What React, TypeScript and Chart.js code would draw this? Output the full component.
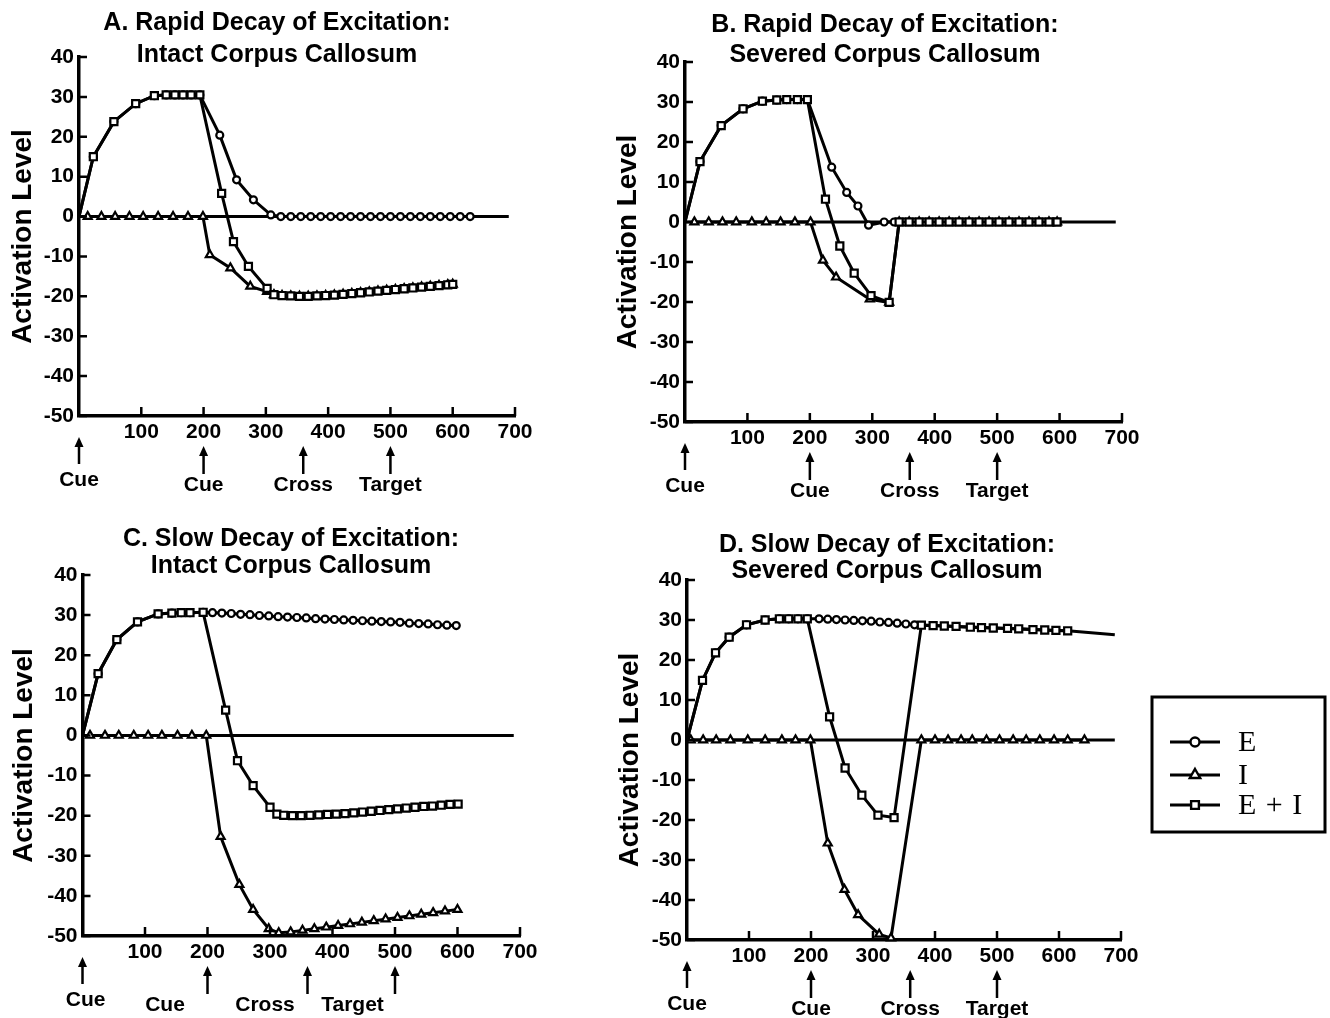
import React, { useEffect, useRef } from 'react';
import { Chart, registerables } from 'chart.js';

Chart.register(...registerables);

const FONT = "'Liberation Sans', Arial, Helvetica, sans-serif";
const SERIF = "'Liberation Serif', 'Times New Roman', serif";
Chart.defaults.font.family = FONT;
Chart.defaults.color = '#000';

// ---------- axes / labels ----------
const X_MIN = 0;
const X_MAX = 700;
const X_STEP = 100;
const Y_MIN = -50;
const Y_MAX = 40;
const Y_STEP = 10;
const Y_AXIS_TITLE = 'Activation Level';
const SERIES_LABELS = ['E', 'I', 'E + I'];
const EVENT_LABELS = ['Cue', 'Cue', 'Cross', 'Target'];
const EVENT_ARROWS_AT = [0, 200, 360, 500];
const EVENT_LABELS_AT = [0, 200, 360, 500];
const C_EVENT_LABELS_AT = [5, 132, 292, 432];
const ZERO_LINE_X = [0, 690];
const ZERO_LINE_Y = [0, 0];

// ---------- Panel A: rapid decay, intact ----------
const A_E_X = [0, 23, 56, 91, 121, 140, 154, 167, 180, 194, 226, 253, 280, 308, 324, 340, 356, 372, 388, 404, 420, 436, 452, 468, 484, 500, 516, 532, 548, 564, 580, 596, 612, 628];
const A_E_Y = [0, 15, 23.8, 28.3, 30.3, 30.5, 30.5, 30.5, 30.5, 30.5, 20.4, 9.2, 4.2, 0.4, 0, 0, 0, 0, 0, 0, 0, 0, 0, 0, 0, 0, 0, 0, 0, 0, 0, 0, 0, 0];
const A_I_X = [14, 36, 58, 81, 103, 127, 151, 175, 199, 210, 243, 275, 302, 313, 326, 340, 354, 368, 382, 396, 410, 424, 438, 452, 466, 480, 494, 508, 522, 536, 550, 564, 578, 592, 600];
const A_I_Y = [0, 0, 0, 0, 0, 0, 0, 0, 0, -9.6, -12.9, -17.5, -18.8, -19.6, -19.8, -19.9, -20, -20, -19.9, -19.8, -19.7, -19.5, -19.3, -19.1, -18.9, -18.7, -18.5, -18.3, -18.1, -17.9, -17.7, -17.5, -17.3, -17.1, -17];
const A_EI_X = [0, 23, 56, 91, 121, 140, 154, 167, 180, 194, 229, 248, 272, 302, 313, 326, 340, 354, 368, 382, 396, 410, 424, 438, 452, 466, 480, 494, 508, 522, 536, 550, 564, 578, 592, 600];
const A_EI_Y = [0, 15, 23.8, 28.3, 30.3, 30.5, 30.5, 30.5, 30.5, 30.5, 5.8, -6.3, -12.5, -18, -19.6, -19.8, -19.9, -20, -20, -19.9, -19.8, -19.7, -19.5, -19.3, -19.1, -18.9, -18.7, -18.5, -18.3, -18.1, -17.9, -17.7, -17.5, -17.3, -17.1, -17];

// ---------- Panel B: rapid decay, severed ----------
const B_E_X = [0, 24, 58, 93, 124, 147, 163, 180, 196, 235, 259, 277, 294, 319, 335, 351, 367, 383, 399, 415, 431, 447, 463, 479, 495, 511, 527, 543, 559, 575, 591];
const B_E_Y = [0, 15.1, 24.1, 28.3, 30.2, 30.5, 30.6, 30.6, 30.6, 13.7, 7.4, 4, -0.8, 0, 0, 0, 0, 0, 0, 0, 0, 0, 0, 0, 0, 0, 0, 0, 0, 0, 0];
const B_I_X = [15, 38, 60, 82, 107, 130, 153, 176, 201, 221, 242, 296, 327, 343, 359, 375, 391, 407, 423, 439, 455, 471, 487, 503, 519, 535, 551, 567, 583, 596];
const B_I_Y = [0, 0, 0, 0, 0, 0, 0, 0, 0, -9.6, -13.8, -19.3, -20.1, 0, 0, 0, 0, 0, 0, 0, 0, 0, 0, 0, 0, 0, 0, 0, 0, 0];
const B_EI_X = [0, 24, 58, 93, 124, 147, 163, 180, 196, 225, 248, 271, 298, 327, 343, 359, 375, 391, 407, 423, 439, 455, 471, 487, 503, 519, 535, 551, 567, 583, 596];
const B_EI_Y = [0, 15.1, 24.1, 28.3, 30.2, 30.5, 30.6, 30.6, 30.6, 5.7, -6, -12.8, -18.4, -20.1, 0, 0, 0, 0, 0, 0, 0, 0, 0, 0, 0, 0, 0, 0, 0, 0, 0];

// ---------- Panel C: slow decay, intact ----------
const C_E_X = [0, 25, 55, 88, 121, 143, 158, 172, 193, 208, 223, 238, 253, 268, 283, 298, 313, 328, 343, 358, 373, 388, 403, 418, 433, 448, 463, 478, 493, 508, 523, 538, 553, 568, 583, 598];
const C_E_Y = [0, 15.4, 23.9, 28.3, 30.3, 30.5, 30.6, 30.6, 30.7, 30.6, 30.5, 30.4, 30.2, 30.1, 29.9, 29.8, 29.6, 29.5, 29.4, 29.3, 29.1, 29.0, 28.9, 28.8, 28.7, 28.6, 28.5, 28.4, 28.3, 28.2, 28.0, 27.9, 27.8, 27.6, 27.5, 27.4];
const C_I_X = [12, 36, 58, 82, 105, 127, 152, 175, 198, 221, 251, 273, 298, 314, 333, 352, 371, 390, 409, 428, 447, 466, 485, 504, 523, 542, 561, 580, 600];
const C_I_Y = [0, 0, 0, 0, 0, 0, 0, 0, 0, -25.2, -37.2, -43.4, -48.2, -49.2, -49.0, -48.6, -48.2, -47.8, -47.4, -47.0, -46.6, -46.2, -45.8, -45.4, -45.0, -44.6, -44.2, -43.8, -43.4];
const C_EI_X = [0, 25, 55, 88, 121, 143, 158, 172, 193, 229, 248, 273, 300, 311, 322, 336, 350, 364, 378, 392, 406, 420, 434, 448, 462, 476, 490, 504, 518, 532, 546, 560, 574, 588, 601];
const C_EI_Y = [0, 15.4, 23.9, 28.3, 30.3, 30.5, 30.6, 30.6, 30.7, 6.3, -6.3, -12.5, -17.9, -19.6, -19.9, -20, -20, -19.9, -19.8, -19.7, -19.6, -19.5, -19.3, -19.1, -18.9, -18.7, -18.5, -18.3, -18.1, -17.9, -17.7, -17.6, -17.4, -17.2, -17.1];

// ---------- Panel D: slow decay, severed ----------
const D_E_X = [0, 25, 46, 68, 96, 126, 149, 164, 179, 194, 213, 227, 241, 255, 269, 283, 297, 311, 325, 339, 353, 367, 397, 434, 475, 517, 558, 595, 614, 690];
const D_E_Y = [0, 14.9, 21.8, 25.7, 28.8, 30, 30.3, 30.3, 30.3, 30.3, 30.3, 30.2, 30.1, 30.0, 29.9, 29.8, 29.7, 29.5, 29.4, 29.2, 29.0, 28.8, 28.6, 28.4, 28.1, 27.9, 27.6, 27.4, 27.3, 26.3];
const D_I_X = [6, 26, 47, 70, 98, 126, 153, 175, 199, 227, 254, 276, 310, 329, 378, 400, 421, 442, 460, 483, 504, 526, 547, 569, 592, 614, 641];
const D_I_Y = [0, 0, 0, 0, 0, 0, 0, 0, 0, -25.8, -37.4, -43.7, -48.6, -49.5, 0, 0, 0, 0, 0, 0, 0, 0, 0, 0, 0, 0, 0];
const D_EI_X = [0, 25, 46, 68, 96, 126, 149, 164, 179, 194, 230, 255, 282, 308, 334, 378, 397, 415, 434, 457, 475, 494, 517, 535, 558, 577, 595, 614];
const D_EI_Y = [0, 14.9, 21.8, 25.7, 28.8, 30, 30.3, 30.3, 30.3, 30.3, 5.8, -7, -13.8, -18.8, -19.4, 28.7, 28.6, 28.5, 28.4, 28.2, 28.1, 28.0, 27.9, 27.8, 27.6, 27.5, 27.4, 27.3];

type XY = [number[], number[]];
type PanelSpec = {
  key: string;
  left: number; top: number; width: number; height: number;
  pad: { l: number; r: number; t: number; b: number };
  yw: number;
  title: [string, string];
  titleX: number;
  titleBase: [number, number];
  E: XY; I: XY; EI: XY;
  eMarkerUntil: number;
  labelsAt: number[];
  legend?: { x: number; y: number; w: number; h: number };
};

const PANELS: PanelSpec[] = [
  {
    key: 'A', left: 0, top: 0, width: 600, height: 509,
    pad: { l: 6.2, r: 85, t: 57, b: 63 }, yw: 72.8,
    title: ['A. Rapid Decay of Excitation:', 'Intact Corpus Callosum'], titleX: 277, titleBase: [30, 62],
    E: [A_E_X, A_E_Y], I: [A_I_X, A_I_Y], EI: [A_EI_X, A_EI_Y], eMarkerUntil: 640,
    labelsAt: EVENT_LABELS_AT,
  },
  {
    key: 'B', left: 600, top: 0, width: 730, height: 509,
    pad: { l: 11.2, r: 208, t: 62, b: 57 }, yw: 73.8,
    title: ['B. Rapid Decay of Excitation:', 'Severed Corpus Callosum'], titleX: 285, titleBase: [32, 62],
    E: [B_E_X, B_E_Y], I: [B_I_X, B_I_Y], EI: [B_EI_X, B_EI_Y], eMarkerUntil: 600,
    labelsAt: EVENT_LABELS_AT,
  },
  {
    key: 'C', left: 0, top: 509, width: 600, height: 509,
    pad: { l: 7.2, r: 80, t: 66, b: 52 }, yw: 75.3,
    title: ['C. Slow Decay of Excitation:', 'Intact Corpus Callosum'], titleX: 291, titleBase: [37, 64],
    E: [C_E_X, C_E_Y], I: [C_I_X, C_I_Y], EI: [C_EI_X, C_EI_Y], eMarkerUntil: 610,
    labelsAt: C_EVENT_LABELS_AT,
  },
  {
    key: 'D', left: 600, top: 509, width: 730, height: 509,
    pad: { l: 13.2, r: 209, t: 71, b: 48 }, yw: 73.8,
    title: ['D. Slow Decay of Excitation:', 'Severed Corpus Callosum'], titleX: 287, titleBase: [43, 69],
    E: [D_E_X, D_E_Y], I: [D_I_X, D_I_Y], EI: [D_EI_X, D_EI_Y], eMarkerUntil: 370,
    labelsAt: EVENT_LABELS_AT,
    legend: { x: 552, y: 188, w: 173, h: 135 },
  },
];

const MARKERS = [
  { style: 'circle', r: 3.5 },
  { style: 'triangle', r: 4.6 },
  { style: 'rect', r: 5 },
];

function drawMarker(ctx: CanvasRenderingContext2D, style: string, x: number, y: number, r: number) {
  ctx.beginPath();
  if (style === 'circle') {
    ctx.arc(x, y, r, 0, Math.PI * 2);
  } else if (style === 'triangle') {
    let a = 0;
    ctx.moveTo(x + Math.sin(a) * r, y - Math.cos(a) * r);
    a += (2 * Math.PI) / 3;
    ctx.lineTo(x + Math.sin(a) * r, y - Math.cos(a) * r);
    a += (2 * Math.PI) / 3;
    ctx.lineTo(x + Math.sin(a) * r, y - Math.cos(a) * r);
    ctx.closePath();
  } else {
    const s = Math.SQRT1_2 * r;
    ctx.rect(x - s, y - s, 2 * s, 2 * s);
  }
  ctx.fillStyle = '#fff';
  ctx.fill();
  ctx.stroke();
}

function makeDecor(p: PanelSpec) {
  return {
    id: 'decor' + p.key,
    afterDraw(chart: any) {
      const { ctx, chartArea: ca, scales } = chart;
      const xs = scales.x;
      const ys = scales.y;
      ctx.save();
      ctx.strokeStyle = '#000';
      ctx.fillStyle = '#000';
      ctx.lineWidth = 2.5;
      // inward tick marks
      ctx.beginPath();
      ys.ticks.forEach((t: any) => {
        const py = ys.getPixelForValue(t.value);
        ctx.moveTo(ca.left, py);
        ctx.lineTo(ca.left + 8, py);
      });
      xs.ticks.forEach((t: any) => {
        if (t.value === X_MIN) return;
        const px = xs.getPixelForValue(t.value);
        ctx.moveTo(px, ca.bottom);
        ctx.lineTo(px, ca.bottom - 9);
      });
      ctx.stroke();
      // event arrows
      EVENT_ARROWS_AT.forEach((v, i) => {
        const px = xs.getPixelForValue(v);
        const top = ca.bottom + (i === 0 ? 21 : 30);
        const bot = ca.bottom + (i === 0 ? 48 : 58);
        ctx.beginPath();
        ctx.moveTo(px, top + 6);
        ctx.lineTo(px, bot);
        ctx.stroke();
        ctx.beginPath();
        ctx.moveTo(px, top);
        ctx.lineTo(px - 4.5, top + 10);
        ctx.lineTo(px + 4.5, top + 10);
        ctx.closePath();
        ctx.fill();
      });
      ctx.fillStyle = '#000';
      ctx.font = `bold 21px ${FONT}`;
      ctx.textAlign = 'center';
      ctx.textBaseline = 'middle';
      p.labelsAt.forEach((v, i) => {
        ctx.fillText(EVENT_LABELS[i], xs.getPixelForValue(v), ca.bottom + (i === 0 ? 64 : 69));
      });
      // panel title
      ctx.font = `bold 25px ${FONT}`;
      ctx.textBaseline = 'alphabetic';
      ctx.fillText(p.title[0], p.titleX, p.titleBase[0]);
      ctx.fillText(p.title[1], p.titleX, p.titleBase[1]);
      // legend box
      if (p.legend) {
        const L = p.legend;
        ctx.lineWidth = 3;
        ctx.strokeRect(L.x, L.y, L.w, L.h);
        const rows = [45, 78, 108];
        const sizes = [4.5, 6, 5.5];
        chart.data.datasets.forEach((d: any, i: number) => {
          if (i > 2) return;
          const y = L.y + rows[i];
          ctx.lineWidth = 3;
          ctx.beginPath();
          ctx.moveTo(L.x + 18, y);
          ctx.lineTo(L.x + 68, y);
          ctx.stroke();
          ctx.lineWidth = 2.4;
          drawMarker(ctx, MARKERS[i].style, L.x + 43, y, sizes[i]);
          ctx.fillStyle = '#000';
          ctx.font = `30px ${SERIF}`;
          (ctx as any).letterSpacing = '1px';
          ctx.textAlign = 'left';
          ctx.textBaseline = 'middle';
          ctx.fillText(d.label, L.x + 86, y + 1);
          (ctx as any).letterSpacing = '0px';
        });
      }
      ctx.restore();
    },
  };
}

function seriesDataset(label: string, xy: XY, m: { style: string; r: number }, order: number, until: number) {
  const [xs, ys] = xy;
  return {
    label,
    data: xs.map((x, i) => ({ x, y: ys[i] })),
    borderColor: '#000',
    borderWidth: 3,
    tension: 0,
    pointStyle: m.style,
    pointRadius: (c: any) => {
      const r = c.raw;
      if (!r || r.x === 0 || r.x > until) return 0;
      return m.r;
    },
    pointBackgroundColor: '#fff',
    pointBorderColor: '#000',
    pointBorderWidth: 2.2,
    clip: false,
    order,
  };
}

function buildConfig(p: PanelSpec): any {
  const axisFont = { family: FONT, size: 21, weight: 'bold' as const };
  return {
    type: 'line',
    data: {
      datasets: [
        seriesDataset(SERIES_LABELS[0], p.E, MARKERS[0], 1, p.eMarkerUntil),
        seriesDataset(SERIES_LABELS[1], p.I, MARKERS[1], 2, 10000),
        seriesDataset(SERIES_LABELS[2], p.EI, MARKERS[2], 0, 10000),
        {
          label: '',
          data: ZERO_LINE_X.map((x, i) => ({ x, y: ZERO_LINE_Y[i] })),
          borderColor: '#000',
          borderWidth: 3,
          pointRadius: 0,
          clip: false,
          order: 3,
        },
      ],
    },
    options: {
      responsive: false,
      animation: false,
      devicePixelRatio: 1,
      events: [],
      layout: { padding: { left: p.pad.l, right: p.pad.r, top: p.pad.t, bottom: p.pad.b } },
      plugins: {
        legend: { display: false },
        title: { display: false },
        tooltip: { enabled: false },
      },
      scales: {
        x: {
          type: 'linear',
          min: X_MIN,
          max: X_MAX,
          afterFit: (s: any) => { s.height = 30; },
          grid: { display: false, drawTicks: false },
          border: { display: true, color: '#000', width: 3.5 },
          ticks: {
            stepSize: X_STEP,
            color: '#000',
            font: axisFont,
            padding: 4,
            maxRotation: 0,
            autoSkip: false,
            callback: (v: number) => (v === X_MIN ? '' : String(v)),
          },
        },
        y: {
          type: 'linear',
          min: Y_MIN,
          max: Y_MAX,
          afterFit: (s: any) => { s.width = p.yw; },
          grid: { display: false, drawTicks: false },
          border: { display: true, color: '#000', width: 3.5 },
          ticks: { stepSize: Y_STEP, color: '#000', font: axisFont, padding: 5, autoSkip: false },
          title: {
            display: true,
            text: Y_AXIS_TITLE,
            color: '#000',
            font: { family: FONT, size: 28, weight: 'bold' },
            padding: 0,
          },
        },
      },
    },
    plugins: [makeDecor(p)],
  };
}

function Panel({ p }: { p: PanelSpec }) {
  const ref = useRef<HTMLCanvasElement | null>(null);
  useEffect(() => {
    if (!ref.current) return;
    const chart = new Chart(ref.current, buildConfig(p));
    return () => chart.destroy();
  }, [p]);
  return (
    <canvas
      ref={ref}
      width={p.width}
      height={p.height}
      style={{ position: 'absolute', left: p.left, top: p.top, width: p.width, height: p.height }}
    />
  );
}

export default function App() {
  return (
    <div style={{ position: 'absolute', left: 0, top: 0, width: 1330, height: 1018, background: '#fff', overflow: 'hidden' }}>
      {PANELS.map((p) => (
        <Panel key={p.key} p={p} />
      ))}
    </div>
  );
}
